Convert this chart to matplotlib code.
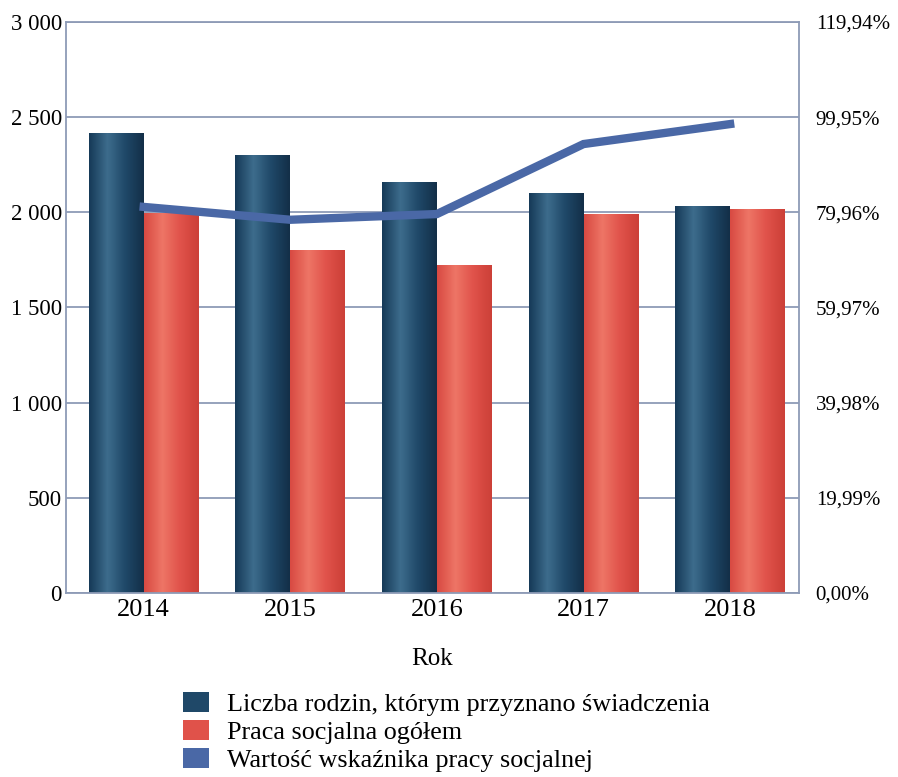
import numpy as np
import matplotlib.pyplot as plt
from matplotlib.patches import Patch
from matplotlib.colors import LinearSegmentedColormap

plt.rcParams['font.family'] = ['Liberation Serif', 'DejaVu Serif']

# data
years = ['2014', '2015', '2016', '2017', '2018']
rodziny = [2417, 2301, 2159, 2102, 2033]
praca = [1995, 1802, 1723, 1991, 2018]
wskaznik = [81.1, 78.4, 79.6, 94.3, 98.5]

left_ticks = [0, 500, 1000, 1500, 2000, 2500, 3000]
right_ticks = [0.0, 19.99, 39.98, 59.97, 79.96, 99.95, 119.94]

dark = '#1f4868'
red = '#e0524a'
line_c = '#4a68a6'
grid_c = '#8d9bb6'

fig = plt.figure(figsize=(8.98, 7.77), dpi=100)
ax = fig.add_axes([0.0735, 0.2368, 0.8163, 0.7349])

x = np.arange(len(years))
w = 0.375
b1 = ax.bar(x - w / 2, rodziny, w, color=dark, zorder=2)
b2 = ax.bar(x + w / 2, praca, w, color=red, zorder=2)

# cylinder-ish shading
cm_dark = LinearSegmentedColormap.from_list('d', ['#163a58', '#3d6c8c', '#1f4868', '#132f48'])
cm_red = LinearSegmentedColormap.from_list('r', ['#d84a42', '#ee7566', '#e0524a', '#cc4038'])
grad = np.linspace(0, 1, 64).reshape(1, -1)
for bars, cm in ((b1, cm_dark), (b2, cm_red)):
    for p in bars:
        x0, y0 = p.get_x(), p.get_y()
        im = ax.imshow(grad, cmap=cm, aspect='auto', zorder=2.1,
                       extent=[x0, x0 + p.get_width(), y0, y0 + p.get_height()])
        im.set_clip_path(p)

ax.set_xlim(-0.53, len(years) - 0.53)
ax.set_ylim(0, 3000)
ax.set_yticks(left_ticks)
ax.set_yticklabels([f'{v:,}'.replace(',', ' ') for v in left_ticks], fontsize=16.5)
ax.set_xticks(x)
ax.set_xticklabels(years, fontsize=19)
ax.tick_params(axis='x', length=0, pad=4)
ax.tick_params(axis='y', length=0, pad=3)
ax.yaxis.grid(True, color=grid_c, linewidth=1.3, zorder=1)
ax.set_axisbelow(True)
for s in ax.spines.values():
    s.set_color(grid_c)
    s.set_linewidth(1.3)
ax.set_xlabel('Rok', fontsize=18, labelpad=20)

ax2 = ax.twinx()
ax2.plot(x, wskaznik, color=line_c, linewidth=6, solid_joinstyle='miter', zorder=5)
ax2.set_ylim(0, 119.94)
ax2.set_yticks(right_ticks)
ax2.set_yticklabels([f'{v:.2f}%'.replace('.', ',') for v in right_ticks], fontsize=15)
ax2.tick_params(axis='y', length=0, pad=12)
for s in ax2.spines.values():
    s.set_visible(False)

handles = [Patch(facecolor=dark), Patch(facecolor=red), Patch(facecolor=line_c)]
labels = ['Liczba rodzin, którym przyznano świadczenia',
          'Praca socjalna ogółem',
          'Wartość wskaźnika pracy socjalnej']
fig.legend(handles, labels, loc='upper left', bbox_to_anchor=(0.183, 0.133),
           frameon=False, fontsize=18.8, handlelength=1.0, handleheight=0.8,
           handletextpad=0.7, labelspacing=0.15, borderpad=0.2)

fig.savefig('out.png', dpi=100)
